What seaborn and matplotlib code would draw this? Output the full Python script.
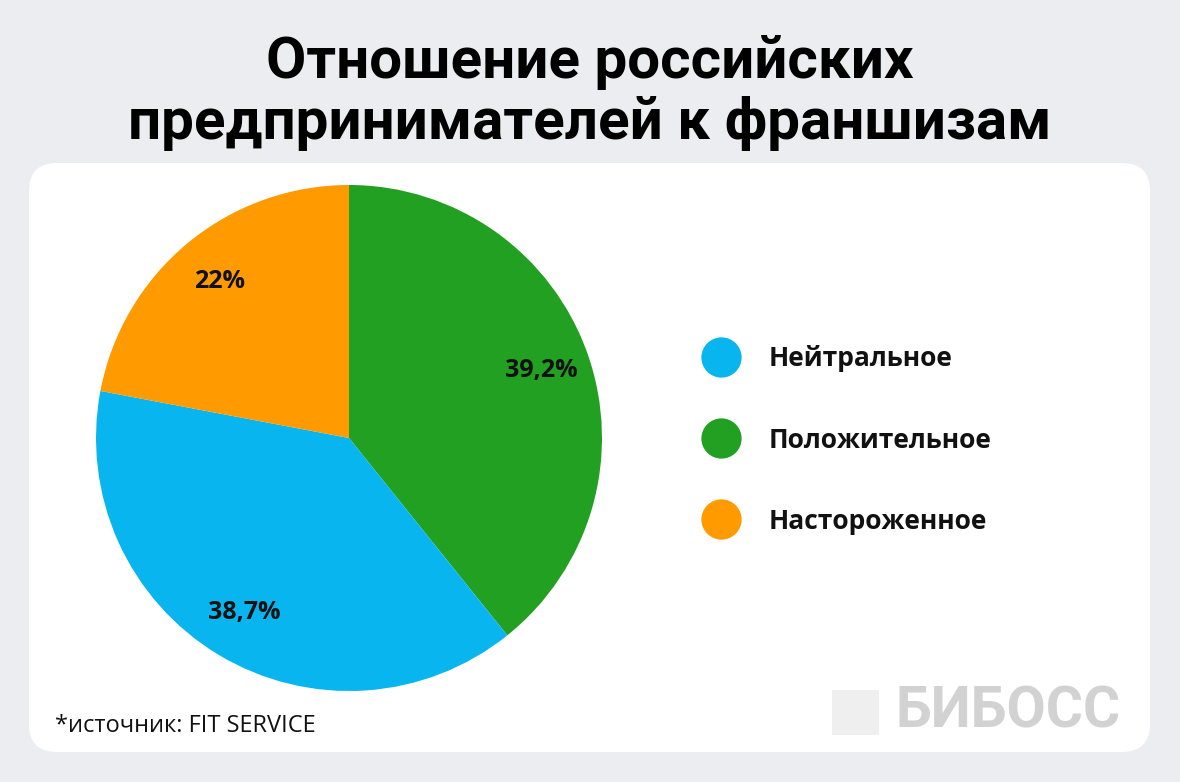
import numpy as np
import matplotlib
matplotlib.use("Agg")
import matplotlib.pyplot as plt
import seaborn as sns
from matplotlib.patches import FancyBboxPatch, Rectangle
from matplotlib.lines import Line2D

# data
categories = ["Нейтральное", "Положительное", "Настороженное"]
shares = [38.7, 39.2, 22.0]
colors = ["#08B5EF", "#21A021", "#FF9A00"]
pie_order = [1, 0, 2]  # green first from 12 o'clock, clockwise

title = "Отношение российских\nпредпринимателей к франшизам"
source = "*источник: FIT SERVICE"
brand = "БИБОСС"

sns.set_theme(style="white")
plt.rcParams["font.family"] = ["Open Sans", "DejaVu Sans"]

W, H = 1180, 782
fig = plt.figure(figsize=(W / 100, H / 100), dpi=100)
fig.patch.set_facecolor("#ECEDF1")

# background card in pixel coordinates
bg = fig.add_axes([0, 0, 1, 1], zorder=-1)
bg.set_xlim(0, W)
bg.set_ylim(H, 0)
bg.axis("off")
bg.add_patch(FancyBboxPatch((29, 163), 1121, 589, boxstyle="round,pad=0,rounding_size=28",
                            facecolor="white", edgecolor="none"))
bg.add_patch(Rectangle((832, 690), 47, 45, facecolor="#EFEFEF", edgecolor="none"))
bg.text(1008, 712, brand, ha="center", va="center", fontsize=41, fontweight="bold",
        color="#D2D2D2", family=["Roboto", "DejaVu Sans"])
bg.text(55, 726, source, ha="left", va="center", fontsize=17, color="#111111")

fig.text(0.5, 1 - 93 / H, title, ha="center", va="center", fontsize=42, fontweight="bold",
         family=["Roboto", "DejaVu Sans"], linespacing=1.12, color="black")

# pie
cx, cy, r = 349, 438, 253
ax = fig.add_axes([(cx - r) / W, (H - cy - r) / H, 2 * r / W, 2 * r / H])


def fmt(p):
    s = f"{p:.1f}".replace(".", ",")
    if s.endswith(",0"):
        s = s[:-2]
    return s + "%"


vals = [shares[i] for i in pie_order]
cols = [colors[i] for i in pie_order]
wedges, _, autotexts = ax.pie(vals, colors=cols, startangle=90, counterclock=False,
                              autopct=fmt, pctdistance=0.805,
                              wedgeprops=dict(linewidth=0))
for t in autotexts:
    t.set_fontsize(18)
    t.set_fontweight("bold")
    t.set_color("#111111")
ax.set_xlim(-1, 1)
ax.set_ylim(-1, 1)
ax.set_aspect("auto")

handles = [Line2D([], [], marker="o", linestyle="none", markersize=29,
                  markerfacecolor=c, markeredgecolor="none") for c in colors]
leg = fig.legend(handles, categories, loc="center left", bbox_to_anchor=(691 / W, 1 - 440 / H),
                 frameon=False, prop=dict(size=19, weight="bold"), labelspacing=2.05,
                 handlelength=1.5, handletextpad=1.03, borderaxespad=0)
for t in leg.get_texts():
    t.set_color("#111111")

fig.savefig("out.png", dpi=100, facecolor=fig.get_facecolor())
